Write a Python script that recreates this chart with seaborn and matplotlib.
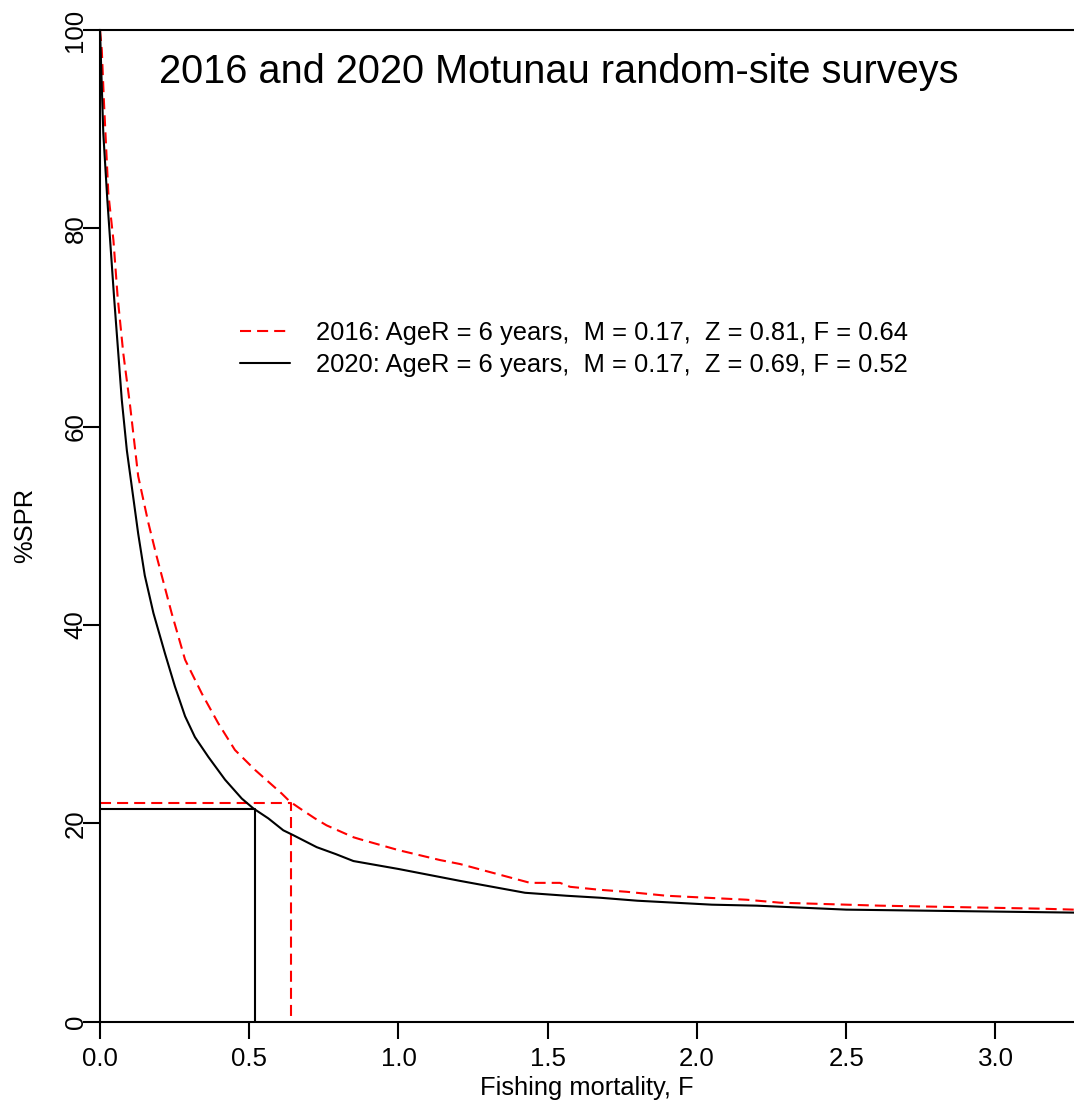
import matplotlib
matplotlib.use("Agg")
import matplotlib.pyplot as plt
import seaborn as sns
import pandas as pd

# ---- data ----
f_2016 = [0, 0.006, 0.013, 0.028, 0.045, 0.059, 0.078, 0.1005, 0.128, 0.162, 0.190,
          0.240, 0.285, 0.341, 0.396, 0.452, 0.519, 0.609, 0.636, 0.670, 0.720, 0.759,
          0.849, 0.871, 1.0, 1.139, 1.206, 1.441, 1.541, 1.575, 1.675, 1.764, 1.898,
          2.166, 2.278, 2.613, 3.149, 3.263]
spr_2016 = [100, 98.0, 92.9, 83.5, 78.8, 73.1, 67.4, 62.2, 55.0, 50.3, 46.9,
            41.2, 36.5, 33.1, 30.1, 27.4, 25.4, 23.0, 22.2, 21.5, 20.5, 19.8,
            18.6, 18.4, 17.3, 16.3, 15.9, 14.0, 14.0, 13.6, 13.3, 13.1, 12.7,
            12.3, 12.0, 11.7, 11.4, 11.3]

f_2020 = [0, 0.011, 0.0245, 0.047, 0.073, 0.090, 0.128, 0.150, 0.179, 0.218, 0.251,
          0.285, 0.318, 0.363, 0.419, 0.475, 0.514, 0.564, 0.614, 0.648, 0.726, 0.790,
          0.849, 1.0, 1.206, 1.424, 1.563, 1.675, 1.8, 2.05, 2.2, 2.5, 3.263]
spr_2020 = [100, 89.6, 82.9, 73.1, 62.7, 57.6, 49.2, 45.0, 41.2, 37.1, 33.8,
            30.8, 28.7, 26.7, 24.4, 22.5, 21.5, 20.5, 19.3, 18.8, 17.6, 16.9,
            16.2, 15.4, 14.2, 13.0, 12.7, 12.5, 12.2, 11.8, 11.7, 11.3, 11.0]

labels = ["2016: AgeR = 6 years,  M = 0.17,  Z = 0.81, F = 0.64",
          "2020: AgeR = 6 years,  M = 0.17,  Z = 0.69, F = 0.52"]
ref_F = [0.64, 0.52]
ref_SPR = [22.1, 21.4]
title = "2016 and 2020 Motunau random-site surveys"
x_ticks = [0.0, 0.5, 1.0, 1.5, 2.0, 2.5, 3.0]
y_ticks = [0, 20, 40, 60, 80, 100]

sns.set_theme(style="ticks")
plt.rcParams["font.family"] = ["Liberation Sans", "DejaVu Sans"]
plt.rcParams["text.color"] = "black"
plt.rcParams["axes.labelcolor"] = "black"
plt.rcParams["xtick.color"] = "black"
plt.rcParams["ytick.color"] = "black"

fig = plt.figure(figsize=(10.74, 11.06), dpi=100)
ax = fig.add_axes([100 / 1074, 84.3 / 1106, 974 / 1074, 991.7 / 1106])

dash = (0, (5.3, 2.9))
red = "#ff0000"
lw = 1.5

df16 = pd.DataFrame({"F": f_2016, "SPR": spr_2016})
df20 = pd.DataFrame({"F": f_2020, "SPR": spr_2020})

# reference lines
for F, S, col, ls in zip(ref_F, ref_SPR, [red, "black"], [dash, "-"]):
    sns.lineplot(x=[0, F, F], y=[S, S, 0], sort=False, estimator=None, ax=ax,
                 color=col, linestyle=ls, linewidth=lw, legend=False)

sns.lineplot(data=df16, x="F", y="SPR", sort=False, estimator=None, ax=ax,
             color=red, linestyle=dash, linewidth=lw, label=labels[0])
sns.lineplot(data=df20, x="F", y="SPR", sort=False, estimator=None, ax=ax,
             color="black", linestyle="-", linewidth=lw, label=labels[1])

ax.set_xlim(0, 3.263)
ax.set_ylim(0, 100)
ax.set_xticks(x_ticks)
ax.set_xticklabels([f"{v:.1f}" for v in x_ticks])
ax.set_yticks(y_ticks)
ax.set_yticklabels([str(v) for v in y_ticks], rotation=90, va="center")

for side in ["left", "bottom", "top"]:
    ax.spines[side].set_visible(True)
    ax.spines[side].set_color("black")
    ax.spines[side].set_linewidth(lw)
ax.spines["right"].set_visible(False)

ax.tick_params(axis="both", which="major", direction="out", length=12, width=lw,
               color="black", labelcolor="black", labelsize=18.6,
               left=True, bottom=True, right=False, top=False)
ax.tick_params(axis="x", pad=6)
ax.tick_params(axis="y", pad=-3)

ax.set_xlabel("Fishing mortality, F", fontsize=18.4, labelpad=4, color="black")
ax.set_ylabel("%SPR", fontsize=18.4, labelpad=19, color="black")

ax.text(0.471, 0.9577, title, transform=ax.transAxes, ha="center", va="center",
        fontsize=28.6, color="black")

leg = ax.legend(loc="upper left", bbox_to_anchor=(0.1437, 0.7067), frameon=False,
                fontsize=18.4, handlelength=1.96, handletextpad=1.0,
                labelspacing=0.30, borderaxespad=0, borderpad=0, labelcolor="black")

ax.grid(False)
fig.savefig("out.png", dpi=100)
